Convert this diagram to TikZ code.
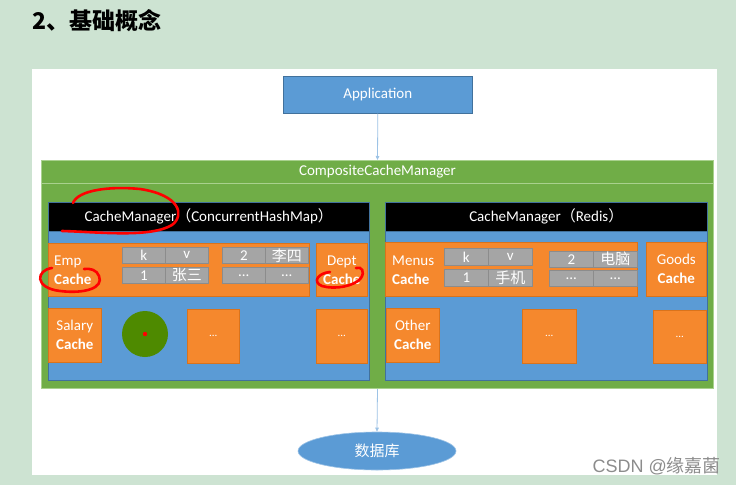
\documentclass[tikz,border=0pt]{standalone}
\usepackage{fontspec}
\setmainfont{Carlito}
\newfontfamily\cjk{Noto Sans CJK SC}
\newfontfamily\markfont{Liberation Sans}
\usetikzlibrary{arrows.meta,shapes.geometric}

\definecolor{pagegreen}{HTML}{CDE3D2}
\definecolor{msblue}{HTML}{5B9BD5}
\definecolor{msblueline}{HTML}{41719C}
\definecolor{msorange}{HTML}{F5882D}
\definecolor{msorangeline}{HTML}{D9731C}
\definecolor{msgreen}{HTML}{70AD47}
\definecolor{msgreenline}{HTML}{A9D18E}
\definecolor{msgray}{HTML}{A5A5A5}
\definecolor{msgrayline}{HTML}{8C8C8C}
\definecolor{ballgreen}{HTML}{4E8A00}
\definecolor{linkblue}{HTML}{9DC3E6}

\begin{document}
\begin{tikzpicture}[x=1pt, y=-1pt,
  wh/.style 2 args={minimum width=#1pt, minimum height=#2pt},
  boxbase/.style={anchor=north west, inner sep=0pt, text=white, font=\fontsize{15}{19}\selectfont},
  bluebox/.style={boxbase, fill=msblue, draw=msblueline, line width=0.6pt},
  greenbox/.style={boxbase, fill=msgreen, draw=msgreenline, line width=1pt},
  headbox/.style={boxbase, fill=black, draw=msblueline, line width=0.6pt},
  orangebox/.style={boxbase, fill=msorange, draw=msorangeline, line width=0.6pt, align=center},
  cell/.style={boxbase, fill=msgray, draw=msgrayline, line width=0.6pt, font=\fontsize{15}{15}\selectfont},
  tag/.style={anchor=west, inner sep=0pt, text=white, align=left, font=\fontsize{15}{19}\selectfont},
  link/.style={draw=linkblue, line width=0.8pt, -{Triangle[length=4pt, width=3.5pt]}},
  redmark/.style={draw=red, line width=2.6pt, line cap=round}]

\path [use as bounding box] (0,0) rectangle (736,485);

% PAGE
\fill [pagegreen] (0,0) rectangle (736,485);
\fill [white] (32,69) rectangle (717,475);
\node [anchor=west, inner sep=0pt, font=\cjk\bfseries\fontsize{23}{23}\selectfont] (title) at (32,21) {2、基础概念};

% APPLICATION
\node [bluebox, wh={189}{37}] (app) at (283,76) {Application};

% COMPOSITE
\node [greenbox, wh={672}{228}] (ccm) at (41,160) {};
\node [greenbox, wh={672}{23}] (ccmTitle) at (41,160) {CompositeCacheManager};

% CACHE MANAGER (CONCURRENT HASH MAP)
\node [bluebox, wh={321}{150}] (mgrA) at (48,230) {};
\node [headbox, wh={321}{29}] (mgrAHead) at (48,202) {CacheManager{\cjk （}ConcurrentHashMap{\cjk ）}};

\node [orangebox, wh={261}{53}] (emp) at (48,243) {};
\node [tag] (empTag) at (54,270) {Emp\\\textbf{Cache}};
\node [cell, wh={43}{16}] (cellAk) at (122,247) {k};
\node [cell, wh={43}{16}] (cellAv) at (165,247) {v};
\node [cell, wh={43}{16}] (cellA1) at (122,267) {1};
\node [cell, wh={43}{16}] (cellAzs) at (165,267) {\cjk 张三};
\node [cell, wh={43}{16}] (cellA2) at (222,247) {2};
\node [cell, wh={43}{16}] (cellAls) at (265,247) {\cjk 李四};
\node [cell, wh={43}{16}] (cellAd1) at (222,267) {...};
\node [cell, wh={43}{16}] (cellAd2) at (265,267) {...};
\node [orangebox, wh={51}{53}] (dept) at (316,243) {Dept\\\textbf{Cache}};

\node [orangebox, wh={53}{54}] (salary) at (48,308) {Salary\\\textbf{Cache}};
\node [circle, fill=ballgreen, minimum size=46pt, inner sep=0pt] (ball) at (145,334) {};
\fill [red] (ball) circle (2.2pt);
\node [orangebox, wh={52}{54}, font=\fontsize{11}{11}\selectfont] (dotsA1) at (187,309) {...};
\node [orangebox, wh={51}{54}, font=\fontsize{11}{11}\selectfont] (dotsA2) at (316,309) {...};

% CACHE MANAGER (REDIS)
\node [bluebox, wh={322}{149}] (mgrB) at (385,231) {};
\node [headbox, wh={322}{29}] (mgrBHead) at (385,202) {CacheManager{\cjk （}Redis{\cjk ）}};

\node [orangebox, wh={252}{54}] (menus) at (385,242) {};
\node [tag] (menusTag) at (392,270) {Menus\\\textbf{Cache}};
\node [cell, wh={44}{17}] (cellBk) at (444,248) {k};
\node [cell, wh={44}{17}] (cellBv) at (488,248) {v};
\node [cell, wh={44}{17}] (cellB1) at (444,269) {1};
\node [cell, wh={44}{17}] (cellBsj) at (488,269) {\cjk 手机};
\node [cell, wh={44}{16}] (cellB2) at (549,251) {2};
\node [cell, wh={44}{16}] (cellBdn) at (593,251) {\cjk 电脑};
\node [cell, wh={44}{16}] (cellBd1) at (549,270) {...};
\node [cell, wh={44}{16}] (cellBd2) at (593,270) {...};
\node [orangebox, wh={60}{54}] (goods) at (646,242) {Goods\\\textbf{Cache}};

\node [orangebox, wh={53}{54}] (other) at (386,308) {Other\\\textbf{Cache}};
\node [orangebox, wh={54}{54}, font=\fontsize{11}{11}\selectfont] (dotsB1) at (522,309) {...};
\node [orangebox, wh={53}{53}, font=\fontsize{11}{11}\selectfont] (dotsB2) at (653,310) {...};

% DATABASE
\node [ellipse, fill=msblue, draw=linkblue, line width=0.6pt, minimum width=158pt, minimum height=38pt, inner sep=0pt, text=white, font=\cjk\fontsize{15}{15}\selectfont] (db) at (377,451) {数据库};

% LINKS
\draw [link] (app.south) -- (ccm.north);
\draw [link] (ccm.south) -- (db.north);

% RED MARKS
\draw [redmark] (62,231) .. controls (100,232) and (150,238) .. (172,225) .. controls (185,215) and (180,195) .. (140,189) .. controls (110,186) and (78,190) .. (73,203);
\draw [redmark] (52,268) .. controls (36,270) and (34,288) .. (60,291) .. controls (85,294) and (104,288) .. (99,276) .. controls (97,270) and (90,268) .. (84,269);
\draw [redmark] (330,272) .. controls (318,273) and (312,282) .. (322,286) .. controls (335,290) and (355,286) .. (361,278) .. controls (365,272) and (362,266) .. (356,268);

% WATERMARK
\node [anchor=east, inner sep=0pt, text=black!45, font=\markfont\fontsize{18}{18}\selectfont] (mark) at (721,466) {CSDN @{\cjk 缘嘉菌}};

\end{tikzpicture}
\end{document}
